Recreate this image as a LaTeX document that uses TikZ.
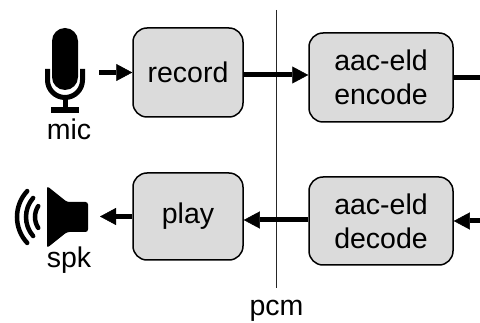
\documentclass[tikz,border=0pt]{standalone}
\usepackage{fontspec}
\setmainfont{Liberation Sans}
\usetikzlibrary{arrows.meta}
\begin{document}
\begin{tikzpicture}[x=1pt,y=-1pt]
\tikzstyle{block}=[draw=black,line width=1.5pt,fill=black!14,rounded corners=14pt,inner sep=0pt,align=center,font=\fontsize{28.5}{34}\selectfont]
\tikzstyle{label}=[inner sep=0pt,anchor=base,font=\fontsize{28.5}{34}\selectfont]
\tikzstyle{arr}=[line width=5pt,-{Triangle[length=16pt,width=17pt,line width=0.5pt]}]
\tikzstyle{wave}=[line width=4.5pt,line cap=round]
\useasboundingbox (0,0) rectangle (480,323);
\node[block,minimum width=110pt,minimum height=89pt] (REC) at (188,72.5) {record};
\node[block,minimum width=144pt,minimum height=89pt] (ENC) at (381,77.5) {aac-eld\\encode};
\node[block,minimum width=144pt,minimum height=88pt] (DEC) at (381,221) {aac-eld\\decode};
\node[block,minimum width=110pt,minimum height=87pt] (PLAY) at (188,216.5) {play};
\node[label] (MIC) at (69,140) {mic};
\node[label] (SPK) at (69,268) {spk};
\node[label] (PCM) at (276.5,316) {pcm};
\coordinate (MICOUT) at (99,72.5);
\coordinate (SPKIN) at (100,216.5);
\coordinate (ENCOUT) at (480,77.5);
\coordinate (DECIN) at (480,221);
\coordinate (TOP) at (276.5,10);
\coordinate (BOT) at (276.5,288);
% microphone
\fill[rounded corners=13pt] (52,28) rectangle (78,90);
\draw[line width=5pt] (47.5,69) -- (47.5,80) arc (180:0:17.5) -- (82.5,69);
\draw[line width=5pt] (65,97) -- (65,108);
\fill (51,107.5) rectangle (79,113);
% speaker
\fill[rounded corners=2.5pt] (47,186) -- (67,202) -- (88,202) -- (88,232) -- (67,232) -- (47,248) -- cycle;
\draw[wave] (55,217) ++(137:38) arc (137:223:38);
\draw[wave] (55,217) ++(139:29) arc (139:221:29);
\draw[wave] (55,217) ++(147:20) arc (147:213:20);
% pcm boundary
\draw[line width=1.2pt,black!85] (TOP) -- (BOT);
\draw[arr] (MICOUT) -- (REC.west);
\draw[arr] ([yshift=-2.5pt]REC.east) -- ([yshift=2.5pt]ENC.west);
\draw[line width=5pt] (ENC.east) -- (ENCOUT);
\draw[arr] (DECIN) -- (DEC.east);
\draw[arr] ([yshift=1pt]DEC.west) -- ([yshift=-3.5pt]PLAY.east);
\draw[arr] (PLAY.west) -- (SPKIN);
\end{tikzpicture}
\end{document}
